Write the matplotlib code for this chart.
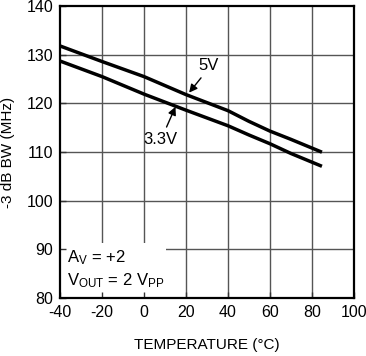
import matplotlib
matplotlib.use('Agg')
import matplotlib.pyplot as plt
from matplotlib.patches import Rectangle

plt.rcParams['font.family'] = ['Liberation Sans', 'DejaVu Sans']
plt.rcParams['mathtext.default'] = 'regular'
plt.rcParams['axes.unicode_minus'] = False

# data
temps = [-40, -20, 0, 20, 40, 50, 60, 70, 84]
bw_5v = [131.8, 128.6, 125.5, 121.8, 118.5, 116.3, 114.3, 112.6, 110.1]
bw_3v3 = [128.7, 125.5, 121.9, 118.6, 115.4, 113.5, 111.7, 109.7, 107.2]
x_ticks = [-40, -20, 0, 20, 40, 60, 80, 100]
y_ticks = [80, 90, 100, 110, 120, 130, 140]

fig = plt.figure(figsize=(3.66, 3.56), dpi=100)
ax = fig.add_axes([0.164, 0.163, 0.803, 0.820])

# grid drawn by hand so the note box can hide it
for xt in x_ticks[1:-1]:
    ax.axvline(xt, color='#555555', lw=1.0, zorder=0.8)
for yt in y_ticks[1:-1]:
    ax.axhline(yt, color='#555555', lw=1.0, zorder=0.8)
ax.add_patch(Rectangle((-40, 80), 50.5, 11.3, facecolor='white',
                       edgecolor='none', zorder=1))

ax.plot(temps, bw_5v, color='black', lw=2.5, zorder=3)
ax.plot(temps, bw_3v3, color='black', lw=2.5, zorder=3)

ax.annotate('5V', xy=(21.5, 122.2), xytext=(31, 127.8), fontsize=12,
            ha='center', va='center',
            arrowprops=dict(arrowstyle='-|>', color='black', lw=1.0,
                            mutation_scale=12, shrinkA=2, shrinkB=0,
                            relpos=(0.3, 0.0)))
ax.annotate('3.3V', xy=(15, 119.3), xytext=(8, 112.5), fontsize=12,
            ha='center', va='center',
            arrowprops=dict(arrowstyle='-|>', color='black', lw=1.0,
                            mutation_scale=12, shrinkA=2, shrinkB=0,
                            relpos=(0.6, 1.0)))

ax.text(-36.5, 88.3, 'A$_{V}$ = +2', fontsize=12, va='center', zorder=4)
ax.text(-36.5, 83.5, 'V$_{OUT}$ = 2 V$_{PP}$', fontsize=12, va='center', zorder=4)

ax.set_xlim(-40, 100)
ax.set_ylim(80, 140)
ax.set_xticks(x_ticks)
ax.set_yticks(y_ticks)
ax.tick_params(direction='in', length=4, width=1, labelsize=11.5, pad=5,
               color='#333333')
for s in ax.spines.values():
    s.set_linewidth(1.6)
ax.set_xlabel('TEMPERATURE (°C)', fontsize=11, labelpad=13)
ax.set_ylabel('-3 dB BW (MHz)', fontsize=11, labelpad=8)

fig.savefig('out.png', dpi=100)
